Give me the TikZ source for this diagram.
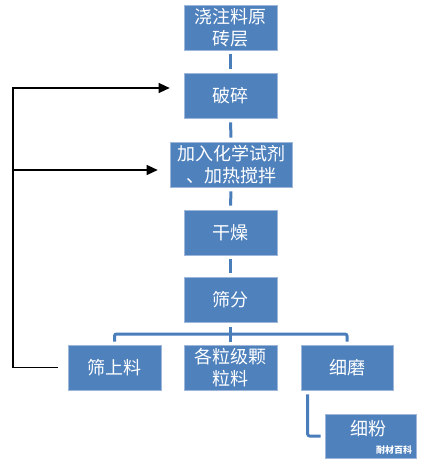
\documentclass[tikz,border=0pt]{standalone}
\usepackage{fontspec}
\newfontfamily\cjk{Noto Sans CJK SC}
\usetikzlibrary{arrows.meta}
\definecolor{boxblue}{HTML}{4F81BD}
\definecolor{boxedge}{HTML}{9DB6DA}
\definecolor{linkblue}{HTML}{4A7EBB}

\begin{document}
\begin{tikzpicture}[x=1pt,y=-1pt,
    box/.style={fill=boxblue,draw=boxedge,line width=0.6pt,text=white,minimum width=93pt,minimum height=45pt,inner sep=0pt,align=center,font=\cjk\fontsize{18}{22}\selectfont},
    link/.style={linkblue,line width=3pt},
    back/.style={line width=1.2pt,-{Triangle[length=11pt,width=10pt]}}]
    \useasboundingbox(0,0)rectangle(427,464);

    \node[box](yuan)at(230.5,27.5){浇注料原\\砖层};
    \node[box](posui)at(230.5,95.5){破碎};
    \node[box,minimum width=122pt](jiare)at(231,164.5){加入化学试剂\\、加热搅拌};
    \node[box](ganzao)at(230.5,232.5){干燥};
    \node[box](shaifen)at(230.5,300){筛分};
    \node[box](shaishang)at(114.5,367.5){筛上料};
    \node[box](keli)at(230.5,367.5){各粒级颗\\粒料};
    \node[box,minimum width=92pt](ximo)at(347,367.5){细磨};
    \node[box,minimum width=91pt,minimum height=44pt](xifen)at(370.5,436){};
    \node[text=white,inner sep=0pt,font=\cjk\fontsize{18}{22}\selectfont](xifentext)at(368,429){细粉};
    \node[text=white,inner sep=0pt,font=\cjk\bfseries\fontsize{9}{9}\selectfont](mark)at(394,450){耐材百科};

    \draw[link,shorten <=4pt,shorten >=4pt](yuan)--(posui);
    \draw[link,shorten <=4pt,shorten >=4pt](posui)--(jiare);
    \draw[link,shorten <=4pt,shorten >=4pt](jiare)--(ganzao);
    \draw[link,shorten <=4pt,shorten >=4pt](ganzao)--(shaifen);

    \coordinate(fork)at(230.5,334);
    \draw[link,rounded corners=2]([yshift=3]shaishang.north)|-(fork)-|([yshift=3]ximo.north);
    \draw[link]([yshift=-4]shaifen.south)--([yshift=3]keli.north);
    \draw[link,rounded corners=2]([xshift=7,yshift=-4]ximo.south west)|-([xshift=-4]xifen.west);

    \coordinate(top)at(13,88);
    \coordinate(mid)at(13,170);
    \draw[back]([xshift=-10]shaishang.west)-|(top)--([xshift=-14,yshift=7.5]posui.west);
    \draw[back](mid)--([xshift=-12,yshift=-5.5]jiare.west);
\end{tikzpicture}
\end{document}
